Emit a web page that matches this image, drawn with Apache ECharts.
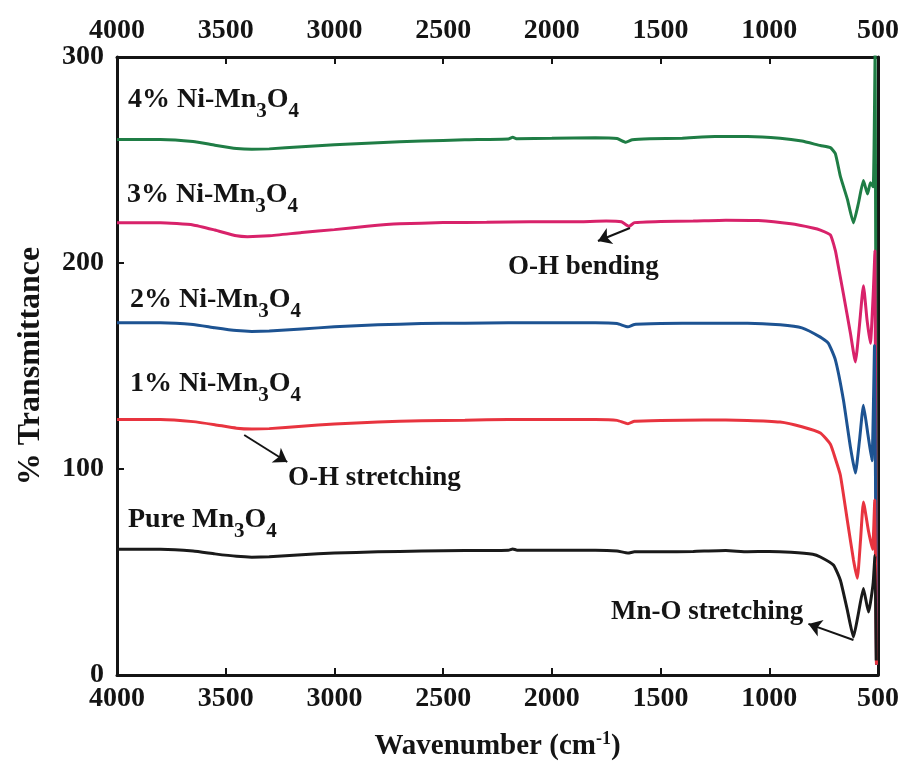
<!DOCTYPE html>
<html>
<head>
<meta charset="utf-8">
<title>FTIR spectra</title>
<script src="https://cdn.jsdelivr.net/npm/echarts/dist/echarts.min.js"></script>
<style>
  html, body { margin: 0; padding: 0; background: #fff; }
  #chart { width: 902px; height: 772px; }
</style>
</head>
<body>
<div id="chart"></div>
<script>
// [wavenumber (cm-1), % transmittance]
const ni4 = [
  [4000, 260], [3800, 260], [3650, 259], [3550, 257.2], [3450, 255.6], [3380, 255.2], [3300, 255.4],
  [3150, 256.4], [3000, 257.4], [2800, 258.4], [2600, 259.2], [2400, 259.8], [2200, 260.2], [2180, 261],
  [2160, 260.3], [2000, 260.5], [1800, 260.8], [1700, 260.4], [1660, 258.6], [1630, 259.8], [1550, 260.3],
  [1400, 260.6], [1250, 261.4], [1100, 261.4], [950, 260.6], [850, 259.2], [765, 257], [719, 256],
  [696, 253], [673, 242], [641, 231], [613, 219.5], [590, 229], [567, 240], [548, 233.5], [535, 239],
  [522, 237], [513, 305], [507, 5]
];
const ni3 = [
  [4000, 219.5], [3800, 219.5], [3650, 218.5], [3550, 216], [3450, 213.2], [3400, 212.8], [3300, 213.2],
  [3150, 214.8], [3000, 216.2], [2850, 217.8], [2700, 219], [2500, 219.6], [2300, 219.8], [2100, 220],
  [1900, 220], [1750, 220.4], [1680, 220], [1645, 217.8], [1620, 219.6], [1500, 220.2], [1350, 220.4],
  [1200, 220.8], [1050, 220.6], [900, 219], [800, 217], [765, 216], [719, 213.6], [696, 206], [687, 201],
  [659, 185], [627, 166], [604, 152], [585, 170], [567, 189], [550, 172], [535, 161], [522, 185],
  [514, 206], [507, 5]
];
const ni2 = [
  [4000, 171], [3800, 171], [3650, 170.2], [3550, 168.6], [3450, 167.2], [3380, 166.8], [3300, 167],
  [3150, 168], [3000, 169], [2800, 170], [2600, 170.6], [2400, 170.8], [2200, 171], [2000, 171],
  [1800, 171], [1700, 170.6], [1650, 169], [1620, 170.2], [1500, 170.6], [1300, 170.8], [1100, 170.8],
  [950, 170], [850, 168.5], [765, 164], [728, 161], [696, 153], [659, 133.5], [627, 110.7], [604, 98],
  [585, 114], [567, 131], [548, 118], [528, 104], [516, 160], [507, 5]
];
const ni1 = [
  [4000, 124], [3800, 124], [3650, 123], [3550, 121.5], [3450, 119.8], [3380, 119.4], [3300, 119.6],
  [3150, 120.8], [3000, 121.8], [2800, 122.8], [2600, 123.4], [2400, 123.7], [2200, 124], [2000, 124],
  [1800, 124], [1700, 123.6], [1650, 122], [1620, 123.2], [1500, 123.6], [1300, 123.8], [1100, 123.6],
  [950, 122.8], [850, 120.5], [765, 117.5], [719, 112], [696, 105], [673, 97], [641, 75], [613, 56],
  [595, 47], [580, 66], [567, 84], [544, 70], [525, 61], [515, 85], [507, 5]
];
const pure = [
  [4000, 61], [3800, 61], [3650, 60.2], [3550, 58.8], [3450, 57.6], [3380, 57.2], [3300, 57.4],
  [3150, 58.4], [3000, 59.2], [2800, 59.8], [2600, 60.2], [2400, 60.4], [2200, 60.6], [2180, 61.2],
  [2160, 60.6], [2000, 60.6], [1800, 60.6], [1700, 60.2], [1650, 59.2], [1620, 59.8], [1500, 59.8],
  [1350, 60], [1200, 60.4], [1100, 59.8], [1000, 60], [900, 59.6], [800, 58.6], [765, 57.3], [705, 53.4],
  [673, 46], [641, 31.5], [613, 18.4], [590, 30], [567, 42], [544, 30.6], [535, 35], [522, 45],
  [514, 58], [508, 7]
];

// annotation arrows: [from, to], arrow head at "to"
const arrowOHStretch = [[3415, 116.5], [3217, 103.4]];
const arrowMnO = [[613, 17], [820, 24.8]];
const arrowOHBend = [[1641, 217], [1788, 210.7]];

const serif = '"Liberation Serif", "Times New Roman", serif';
const ink = '#141414';

const axisCommon = {
  axisLine: { show: true, onZero: false, lineStyle: { color: ink, width: 3 } },
  axisTick: { show: true, inside: true, length: 7, lineStyle: { color: ink, width: 2 } },
  axisLabel: { fontFamily: serif, fontWeight: 'bold', fontSize: 28, color: ink, formatter: v => String(v) },
  splitLine: { show: false }
};

function xAx(pos, extra) {
  return Object.assign({
    type: 'value', position: pos, inverse: true, min: 500, max: 4000, interval: 500
  }, axisCommon, extra);
}

function curveLabel(x, y, str) {
  return {
    type: 'text', x: x, y: y, z: 100,
    style: {
      text: str, fill: ink, verticalAlign: 'top', align: 'left',
      rich: {
        m: { fontFamily: serif, fontWeight: 'bold', fontSize: 28, lineHeight: 44, verticalAlign: 'middle', fill: ink },
        s: { fontFamily: serif, fontWeight: 'bold', fontSize: 21, lineHeight: 21, verticalAlign: 'bottom', fill: ink }
      }
    }
  };
}

function note(x, y, str) {
  return {
    type: 'text', x: x, y: y, z: 100,
    style: { text: str, fill: ink, font: 'bold 27px ' + serif, verticalAlign: 'middle', align: 'left' }
  };
}

function spectrum(name, data, color) {
  return {
    name: name, type: 'line', data: data, showSymbol: false, symbol: 'none',
    smooth: 0.15, lineStyle: { color: color, width: 3 }, itemStyle: { color: color }
  };
}

const chart = echarts.init(document.getElementById('chart'), null, { renderer: 'canvas' });

const blackSeries = spectrum('Pure Mn3O4', pure, '#1a1a1a');
blackSeries.markLine = {
  silent: true, symbol: ['none', 'arrow'], symbolSize: 13, animation: false,
  label: { show: false },
  lineStyle: { color: ink, width: 2, type: 'solid' },
  data: [arrowOHStretch, arrowMnO, arrowOHBend].map(a => [{ coord: a[0] }, { coord: a[1] }])
};

chart.setOption({
  animation: false,
  backgroundColor: '#fff',
  grid: { left: 117, right: 24, top: 57, bottom: 97 },
  xAxis: [
    xAx('bottom', {
      name: 'Wavenumber (cm{sup|-1})', nameLocation: 'middle', nameGap: 55,
      nameTextStyle: {
        fontFamily: serif, fontWeight: 'bold', fontSize: 29, color: ink, lineHeight: 34,
        rich: { sup: { fontFamily: serif, fontWeight: 'bold', fontSize: 18, lineHeight: 18, verticalAlign: 'top', color: ink } }
      },
      axisLabel: Object.assign({}, axisCommon.axisLabel, { margin: 10 })
    }),
    xAx('top', { axisLabel: Object.assign({}, axisCommon.axisLabel, { margin: 12 }) })
  ],
  yAxis: [
    Object.assign({
      type: 'value', position: 'left', min: 0, max: 300, interval: 100,
      name: '% Transmittance', nameLocation: 'middle', nameGap: 70,
      nameTextStyle: { fontFamily: serif, fontWeight: 'bold', fontSize: 32, color: ink }
    }, axisCommon, { axisLabel: Object.assign({}, axisCommon.axisLabel, { margin: 13 }) }),
    {
      type: 'value', position: 'right', min: 0, max: 300, interval: 100,
      axisLine: { show: true, lineStyle: { color: ink, width: 3 } },
      axisTick: { show: false }, axisLabel: { show: false }, splitLine: { show: false }
    }
  ],
  series: [
    spectrum('4% Ni-Mn3O4', ni4, '#1f7d45'),
    spectrum('3% Ni-Mn3O4', ni3, '#d8226a'),
    spectrum('2% Ni-Mn3O4', ni2, '#1d5392'),
    spectrum('1% Ni-Mn3O4', ni1, '#e8343f'),
    blackSeries
  ],
  graphic: [
    curveLabel(128, 78, '{m|4% Ni-Mn}{s|3}{m|O}{s|4}'),
    curveLabel(127, 173, '{m|3% Ni-Mn}{s|3}{m|O}{s|4}'),
    curveLabel(130, 278, '{m|2% Ni-Mn}{s|3}{m|O}{s|4}'),
    curveLabel(130, 362, '{m|1% Ni-Mn}{s|3}{m|O}{s|4}'),
    curveLabel(128, 498, '{m|Pure Mn}{s|3}{m|O}{s|4}'),
    note(508, 267, 'O-H bending'),
    note(288, 478, 'O-H stretching'),
    note(611, 612, 'Mn-O stretching')
  ]
});
</script>
</body>
</html>
